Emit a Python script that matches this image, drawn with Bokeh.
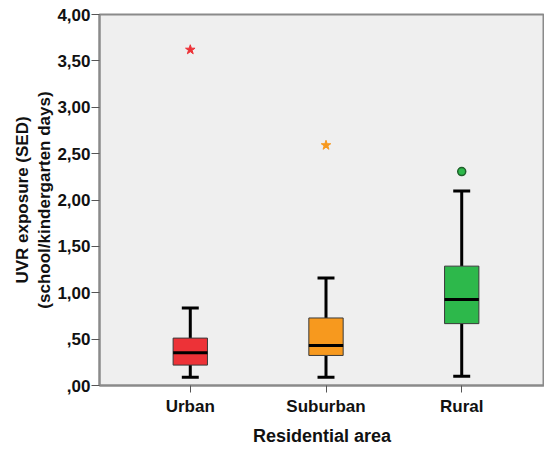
from bokeh.plotting import figure
from bokeh.embed import file_html
from bokeh.resources import INLINE
from bokeh.models import FixedTicker, Range1d

categories = ["Urban", "Suburban", "Rural"]
lower_whisker = [0.09, 0.09, 0.10]
q1 = [0.22, 0.324, 0.667]
median = [0.354, 0.432, 0.926]
q3 = [0.511, 0.728, 1.287]
upper_whisker = [0.836, 1.16, 2.097]
colors = ["#ED3237", "#F7991E", "#2DB84B"]
outlier_cat = ["Urban", "Suburban", "Rural"]
outlier_val = [3.62, 2.59, 2.306]
outlier_marker = ["star", "star", "circle"]
y_ticks = [0, 0.5, 1.0, 1.5, 2.0, 2.5, 3.0, 3.5, 4.0]
y_tick_labels = [",00", ",50", "1,00", "1,50", "2,00", "2,50", "3,00", "3,50", "4,00"]

xs = list(range(1, len(categories) + 1))
FONT = "Liberation Sans"

p = figure(width=544, height=450, output_backend="svg", toolbar_location=None,
           x_range=Range1d(0.331, 3.61), y_range=Range1d(0, 4.0),
           min_border_left=99, min_border_right=0, min_border_top=14, min_border_bottom=65)
p.background_fill_color = "#EFEFEF"
p.border_fill_color = "white"
p.outline_line_color = "#8a8a8a"
p.outline_line_width = 2
p.xgrid.visible = False
p.ygrid.visible = False

bw = 0.253
cw = 0.125
# whiskers
p.segment(x0=xs, y0=q3, x1=xs, y1=upper_whisker, line_color="black", line_width=3)
p.segment(x0=xs, y0=q1, x1=xs, y1=lower_whisker, line_color="black", line_width=3)
p.segment(x0=[x - cw / 2 for x in xs], y0=upper_whisker, x1=[x + cw / 2 for x in xs], y1=upper_whisker,
          line_color="black", line_width=3)
p.segment(x0=[x - cw / 2 for x in xs], y0=lower_whisker, x1=[x + cw / 2 for x in xs], y1=lower_whisker,
          line_color="black", line_width=3)
# boxes
p.quad(left=[x - bw / 2 for x in xs], right=[x + bw / 2 for x in xs], bottom=q1, top=q3,
       fill_color=colors, line_color="#3a3a3a", line_width=1)
p.segment(x0=[x - bw / 2 for x in xs], y0=median, x1=[x + bw / 2 for x in xs], y1=median,
          line_color="black", line_width=3)
# outliers
for c, v, m in zip(outlier_cat, outlier_val, outlier_marker):
    i = categories.index(c)
    if m == "star":
        p.scatter([xs[i]], [v], marker="star", size=10, fill_color=colors[i], line_color=colors[i], line_width=1)
    else:
        p.scatter([xs[i]], [v], marker="circle", size=8, fill_color=colors[i], line_color="#1f5f2a", line_width=1.5)

# axes
p.xaxis.ticker = FixedTicker(ticks=xs)
p.xaxis.major_label_overrides = {x: c for x, c in zip(xs, categories)}
p.yaxis.ticker = FixedTicker(ticks=y_ticks)
p.yaxis.major_label_overrides = {t: l for t, l in zip(y_ticks, y_tick_labels)}

for ax in (p.xaxis, p.yaxis):
    ax.axis_line_color = "#8a8a8a"
    ax.axis_line_width = 2
    ax.major_tick_line_color = "#555555"
    ax.major_tick_line_width = 1
    ax.minor_tick_line_color = None
    ax.major_tick_in = 0
    ax.major_label_text_font = FONT
    ax.major_label_text_font_style = "bold"
    ax.major_label_text_font_size = "17px"
    ax.major_label_text_color = "#111111"
    ax.axis_label_text_font = FONT
    ax.axis_label_text_font_style = "bold"
    ax.axis_label_text_font_size = "17px"
    ax.axis_label_text_color = "#111111"

p.yaxis.major_tick_out = 8
p.yaxis.major_label_standoff = 1
p.xaxis.major_tick_out = 7
p.xaxis.major_label_standoff = 4
p.xaxis.axis_label = "Residential area"
p.xaxis.axis_label_text_font_size = "18px"
p.xaxis.axis_label_standoff = 7
p.yaxis.axis_label = "UVR exposure (SED)\n(school/kindergarten days)"
p.yaxis.axis_label_standoff = 0

open("out.html", "w").write(file_html(p, INLINE))
